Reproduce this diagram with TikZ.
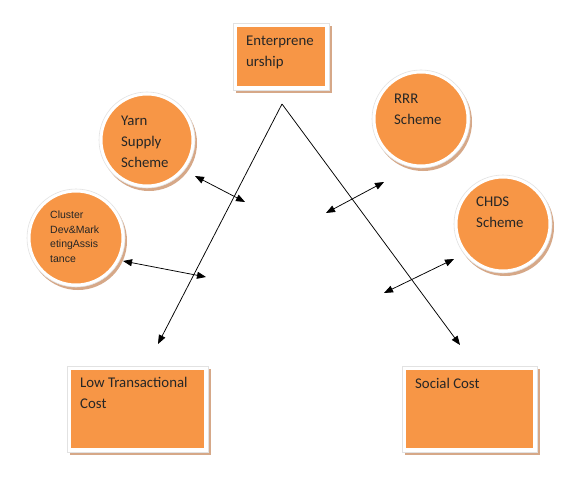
\documentclass[tikz,border=0pt]{standalone}
\usepackage{fontspec}
\setmainfont{Carlito}
\newfontfamily\arialf{Liberation Sans}
\usetikzlibrary{arrows.meta}
\definecolor{orng}{HTML}{F79646}
\definecolor{shad}{HTML}{D6A888}
\definecolor{rim}{HTML}{E2E2E2}
\tikzset{
  blob/.style={circle, fill=orng, draw=white, line width=3.5pt, minimum size=#1, inner sep=0pt},
  blobrim/.style={circle, draw=rim, line width=0.6pt, minimum size=#1, inner sep=0pt},
  blobshad/.style={circle, fill=shad, minimum size=#1, inner sep=0pt},
  lbl/.style={anchor=north west, inner sep=0pt, align=left, font=\fontsize{14.8}{21}\selectfont, text=black!85},
  smalllbl/.style={anchor=north west, inner sep=0pt, align=left, font=\arialf\fontsize{10.5}{14.5}\selectfont, text=black!85},
  con/.style={line width=0.75pt, black},
  tip/.style={-{Triangle[length=9pt,width=7pt]}},
  dtip/.style={{Triangle[length=9pt,width=7pt]}-{Triangle[length=9pt,width=7pt]}},
}
\begin{document}
\begin{tikzpicture}[x=1pt,y=-1pt]
\useasboundingbox[fill=white] (0,0) rectangle (583,484);

% boxes
\newcommand{\orbox}[5]{%
  \fill[shad] (#2+3,#3+3) rectangle (#4+3,#5+3);
  \fill[white] (#2,#3) rectangle (#4,#5);
  \draw[rim, line width=0.6pt] (#2,#3) rectangle (#4,#5);
  \node[fill=orng, inner sep=0pt, minimum width=#4-#2-8, minimum height=#5-#3-8] (#1) at ({(#2+#4)/2},{(#3+#5)/2}) {};
}
\orbox{ent}{233}{23}{329}{90}
\orbox{ltc}{67}{366}{208}{452}
\orbox{soc}{402}{366}{537}{452}

\node[lbl] (entT) at (246,36) {Enterprene\\urship};
\node[lbl] (ltcT) at (80,377) {Low Transactional\\Cost};
\node[lbl] (socT) at (415,378) {Social Cost};

% circles
\foreach \n/\cx/\cy/\r in {yarn/147/140/96, clus/76/238/98, rrr/421/119/98, chds/503/224/98}{
  \node[blobshad=\r] at (\cx+2,\cy+3) {};
  \node[blob=\r-3.5] (\n) at (\cx,\cy) {};
  \node[blobrim=\r] at (\cx,\cy) {};
}

\node[lbl] (yarnT) at (121,116) {Yarn\\Supply\\Scheme};
\node[smalllbl] (clusT) at (50,211) {Cluster\\Dev\&Mark\\etingAssis\\tance};
\node[lbl] (rrrT) at (394,94) {RRR\\Scheme};
\node[lbl] (chdsT) at (476,197) {CHDS\\Scheme};

% connectors
\coordinate (apex) at (282,104);
\coordinate (lend) at (158,344);
\coordinate (rend) at (460,345);
\draw[con, tip] (apex) -- (lend);
\draw[con, tip] (apex) -- (rend);

\coordinate (y1) at (195,176);
\coordinate (y2) at (245,202);
\draw[con, dtip] (y1) -- (y2);
\coordinate (c1) at (123,261);
\coordinate (c2) at (206,277);
\draw[con, dtip] (c1) -- (c2);
\coordinate (r1) at (384,182);
\coordinate (r2) at (326,213);
\draw[con, dtip] (r1) -- (r2);
\coordinate (h1) at (454,259);
\coordinate (h2) at (384,293);
\draw[con, dtip] (h1) -- (h2);
\end{tikzpicture}
\end{document}
